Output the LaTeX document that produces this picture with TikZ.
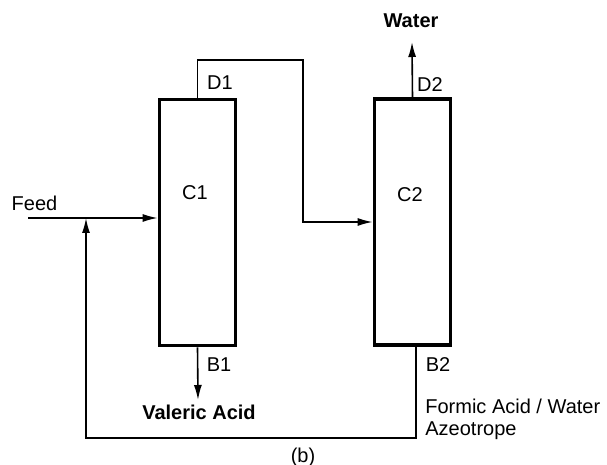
\documentclass[tikz,border=0pt]{standalone}
\usepackage{fontspec}
\setmainfont{Liberation Sans}
\usepackage{tikz}
\usetikzlibrary{arrows.meta, positioning, calc}

\begin{document}
\begin{tikzpicture}[
  x=0.5pt, y=-0.5pt,
  column/.style={
    draw, line width=1.8pt, inner sep=0pt,
    minimum width=38pt, minimum height=123pt
  },
  pipe/.style={line width=0.8pt},
  flow/.style={pipe, -{Latex[length=7.5pt, width=4pt]}},
  tag/.style={font=\fontsize{10}{11}\selectfont, inner sep=1pt},
  prod/.style={tag, font=\fontsize{10}{11}\selectfont\bfseries},
]
  \useasboundingbox (0,0) rectangle (607,465);

  % Columns
  \node[column] (c1) at (197.5,222.5) {};
  \node[column] (c2) at (412.5,222) {};
  \node[tag] (c1lbl) at (195,193) {C1};
  \node[tag] (c2lbl) at (410,195) {C2};

  % Stream tags
  \node[tag] (d1lbl) at (220,83) {D1};
  \node[tag] (d2lbl) at (430,85) {D2};
  \node[tag] (b1lbl) at (219,365) {B1};
  \node[tag] (b2lbl) at (438,365) {B2};
  \node[tag] (feedlbl) at (34.5,203) {Feed};
  \node[prod] (water) at (411,21) {Water};
  \node[prod] (valeric) at (199,412) {Valeric Acid};
  \node[tag, align=left, anchor=west] (azeo) at (423,419)
    {Formic Acid / Water\\Azeotrope};
  \node[tag] (caption) at (303,457) {(b)};

  % Free ends and bends
  \coordinate (feed) at (28,218);
  \coordinate (mix) at (86,218);
  \coordinate (loop) at (303,60);
  \coordinate (wout) at (412,42);
  \coordinate (vout) at (198,400);
  \coordinate (ret) at (86,438);

  % Feed into C1
  \draw[flow] (feed) -- (feed -| c1.west);

  % D1 over to C2
  \draw[flow] (c1.north) |- (loop) |- (c2.west);

  % Products
  \draw[flow] (c2.north) -- (wout);
  \draw[flow] (c1.south) -- (vout);

  % Azeotrope recycle
  \draw[flow] ([xshift=1.75pt]c2.south) |- (ret) -- (mix);

\end{tikzpicture}
\end{document}
